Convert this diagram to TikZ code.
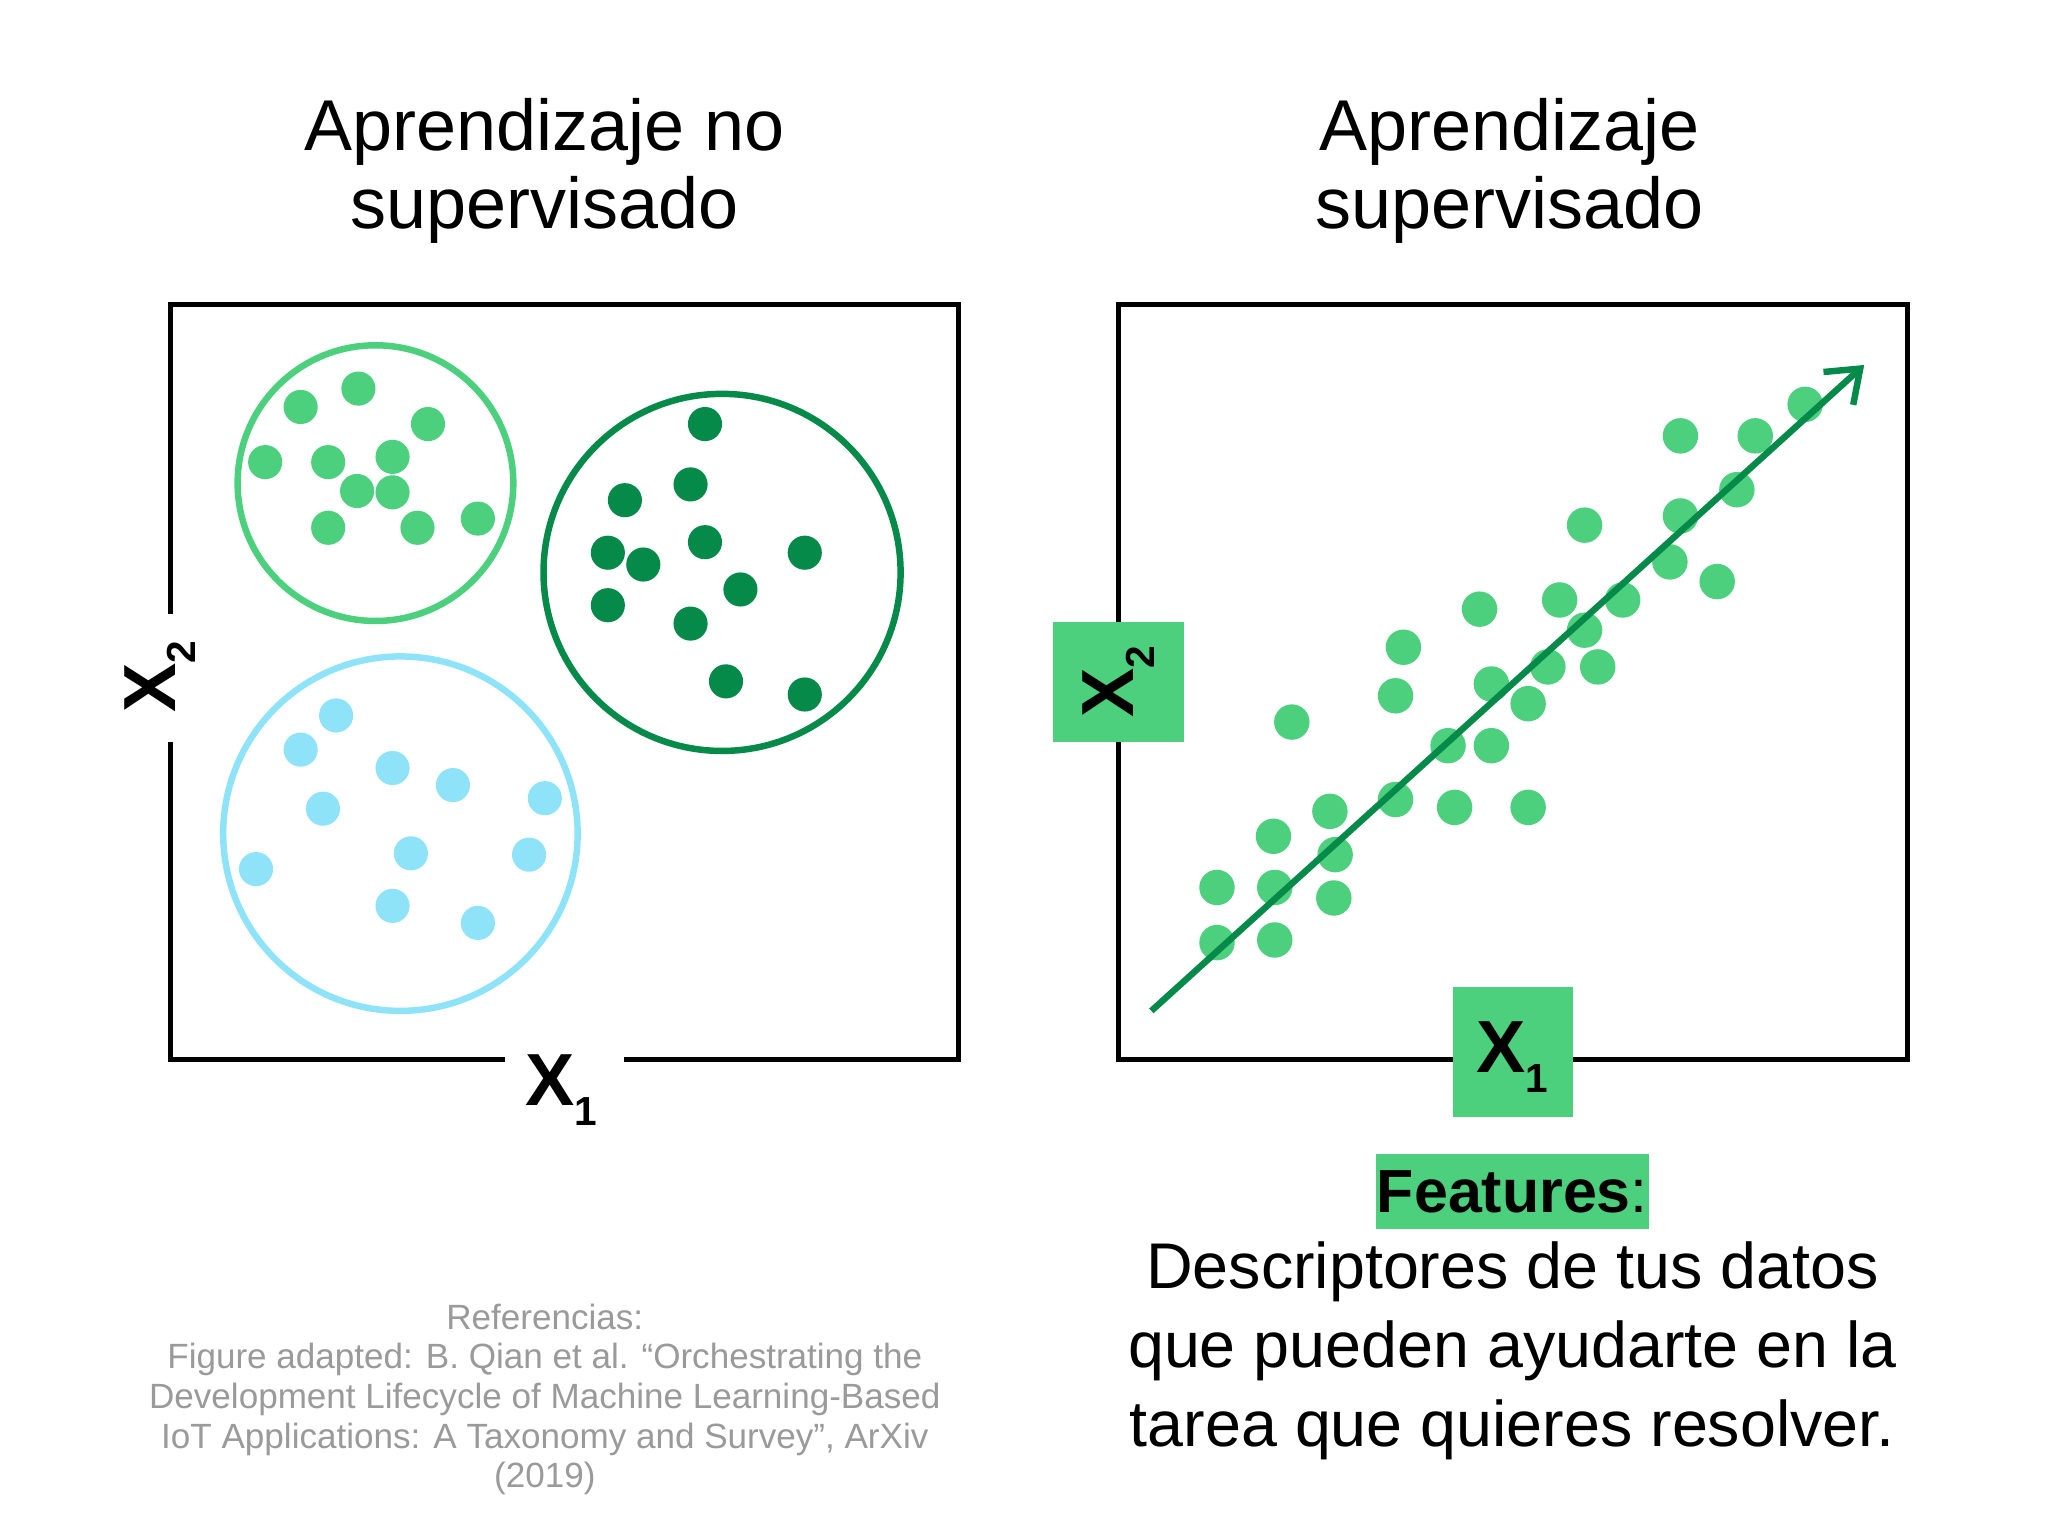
\documentclass[tikz,border=0pt]{standalone}
\usepackage{fontspec}
\setmainfont{Liberation Sans}
\usetikzlibrary{arrows.meta}
\definecolor{lg}{HTML}{4CD07D}
\definecolor{dg}{HTML}{058A4A}
\definecolor{lb}{HTML}{8FE3F9}
\definecolor{gr}{HTML}{9A9A9A}
\begin{document}
\begin{tikzpicture}[x=0.05cm,y=-0.05cm,
  frame/.style={line width=5.5pt},
  ring/.style={line width=7pt},
  title/.style={font=\fontsize{78}{84}\selectfont,align=center},
  axl/.style={font=\fontsize{80}{80}\selectfont\bfseries},
  gbox/.style={fill=lg,inner sep=0pt}]
\useasboundingbox (0,0) rectangle (1560,1170);
\fill[white] (0,0) rectangle (1560,1170);
% titles
\node[title] (t1) at (415,130) {Aprendizaje no\\supervisado};
\node[title] (t2) at (1150,130) {Aprendizaje\\supervisado};
% left frame
\draw[frame] (385,807) -- (130,807) -- (130,565);
\draw[frame] (130,468) -- (130,232) -- (730,232) -- (730,807) -- (475,807);
\node[axl] (lx1) at (428,830) {X\textsubscript{\fontsize{44}{44}\selectfont 1}};
\node[axl,rotate=90] (lx2) at (122,515) {X\textsubscript{\fontsize{44}{44}\selectfont 2}};
% circles
\draw[ring,lg] (286,368) circle (105);
\draw[ring,dg] (550,436) circle (136);
\draw[ring,lb] (305,635) circle (135);
\foreach \p in {(229,310),(273,296),(326,323),(202,352),(250,352),(299,348),(272,374),(299,375),(250,402),(318,402),(364,395)}
  \fill[lg] \p circle (13);
\foreach \p in {(537,323),(476,381),(526,369),(537,413),(463,421),(490,430),(613,421),(564,449),(463,461),(526,475),(553,519),(613,529)}
  \fill[dg] \p circle (13);
\foreach \p in {(256,545),(229,571),(299,585),(345,598),(415,608),(246,616),(313,650),(195,662),(403,651),(299,690),(364,703)}
  \fill[lb] \p circle (13);
% right frame
\draw[frame] (852,232) rectangle (1453,807);
\foreach \p in {(1280,332),(1337,332),(1375,308),(1323,373),(1280,393),(1207,400),(1272,428),(1308,443),(1188,457),(1236,457),(1127,464),(1207,480),(1069,493),(1217,508),(1179,508),(1136,521),(1063,530),(1164,536),(984,550),(1103,568),(1136,568),(1013,618),(1063,609),(1108,615),(1164,615),(970,637),(1017,651),(927,676),(971,676),(1016,684),(927,718),(971,716)}
  \fill[lg] \p circle (13.5);
\coordinate (a0) at (877,770);
\coordinate (a1) at (1420,278);
\draw[dg,line width=7pt,-{Straight Barb[length=32pt,width=48pt,line width=7pt]}] (a0) -- (a1);
\fill[lg] (802,474) rectangle (902,565);
\node[axl,rotate=90] (rx2) at (852,519) {X\textsubscript{\fontsize{44}{44}\selectfont 2}};
\fill[lg] (1107,752) rectangle (1198,851);
\node[axl] (rx1) at (1152,805) {X\textsubscript{\fontsize{44}{44}\selectfont 1}};
% features
\fill[lg] (1048,879) rectangle (1256,936);
\node[font=\fontsize{66}{66}\selectfont] (feat) at (1152,908) {\textbf{Features}:};
\node[font=\fontsize{70}{86}\selectfont,align=center] (desc) at (1152,1029) {Descriptores de tus datos\\que pueden ayudarte en la\\tarea que quieres resolver.};
% reference
\node[gr,font=\fontsize{38}{43}\selectfont,align=center] (ref) at (415,1066) {Referencias:\\Figure adapted: B. Qian et al. “Orchestrating the\\Development Lifecycle of Machine Learning-Based\\IoT Applications: A Taxonomy and Survey”, ArXiv\\(2019)};
\end{tikzpicture}
\end{document}
